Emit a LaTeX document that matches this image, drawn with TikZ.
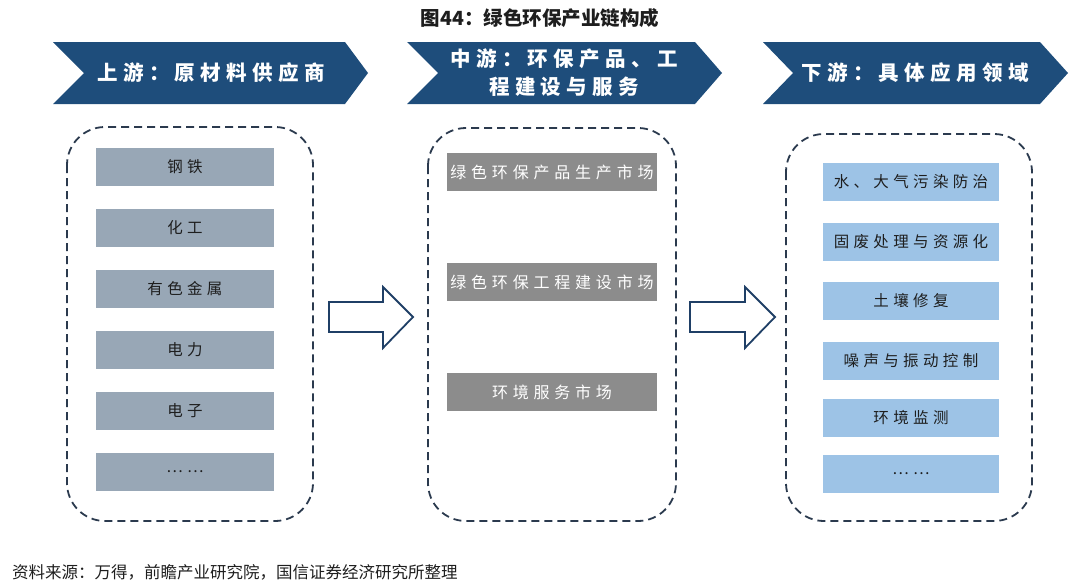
\documentclass[tikz,border=0pt]{standalone}
\usepackage{fontspec}
\setmainfont{Noto Sans CJK SC}
\definecolor{bannerblue}{HTML}{1E4D7B}
\definecolor{dashcol}{HTML}{2B3A4E}
\definecolor{arrowcol}{HTML}{1F3F66}
\definecolor{itemA}{HTML}{98A7B6}
\definecolor{itemB}{HTML}{8C8C8C}
\definecolor{itemC}{HTML}{9DC3E6}
\definecolor{textdark}{HTML}{1E1E1E}
\begin{document}
\begin{tikzpicture}[x=1pt,y=-1pt,
  banner/.style={fill=bannerblue, draw=none},
  btext/.style={text=white, align=center, inner sep=0pt,
    font=\fontsize{20.5}{28}\selectfont\bfseries\addfontfeature{LetterSpace=26}},
  dbox/.style={draw=dashcol, line width=1.8pt, dash pattern=on 8pt off 5pt, rounded corners=38pt},
  itembase/.style={inner sep=0pt, font=\fontsize{15.5}{17}\selectfont\addfontfeature{LetterSpace=28}},
  itema/.style={itembase, fill=itemA, text=textdark, minimum width=178pt, minimum height=38pt},
  itemb/.style={itembase, fill=itemB, text=white, minimum width=210pt, minimum height=38pt,
    font=\fontsize{16}{17}\selectfont\addfontfeature{LetterSpace=30}},
  itemc/.style={itembase, fill=itemC, text=textdark, minimum width=176pt, minimum height=38pt},
  hollow/.style={draw=arrowcol, line width=1.8pt, fill=white, line join=miter}
]
\useasboundingbox (0,0) rectangle (1080,587);

% title
\node[font=\fontsize{19.5}{22}\selectfont\bfseries, text=textdark] (title) at (540,18) {图44：绿色环保产业链构成};

% banners
\fill[banner] (53,42) -- (345,42) -- (368,73) -- (345,104) -- (53,104) -- (84,73) -- cycle;
\fill[banner] (407,42) -- (695,42) -- (722,73) -- (695,104) -- (407,104) -- (438,73) -- cycle;
\fill[banner] (763,42) -- (1040,42) -- (1068,73) -- (1040,104) -- (763,104) -- (793,73) -- cycle;
\node[btext] (b1) at (211,73) {上游：原材料供应商};
\node[btext] (b2) at (564,73) {中游：环保产品、工\\程建设与服务};
\node[btext] (b3) at (915,73) {下游：具体应用领域};

% dashed boxes
\draw[dbox] (67,127) rectangle (313,521);
\draw[dbox] (428,128) rectangle (676,521);
\draw[dbox] (786,134) rectangle (1032,521);

% column 1
\node[itema] (a1) at (185,167) {钢铁};
\node[itema] (a2) at (185,228) {化工};
\node[itema] (a3) at (185,289) {有色金属};
\node[itema] (a4) at (185,350) {电力};
\node[itema] (a5) at (185,411) {电子};
\node[itema] (a6) at (185,472) {……};

% column 2
\node[itemb] (m1) at (552,172) {绿色环保产品生产市场};
\node[itemb] (m2) at (552,282) {绿色环保工程建设市场};
\node[itemb] (m3) at (552,392) {环境服务市场};

% column 3
\node[itemc] (c1) at (911,182) {水、大气污染防治};
\node[itemc] (c2) at (911,242) {固废处理与资源化};
\node[itemc] (c3) at (911,301) {土壤修复};
\node[itemc] (c4) at (911,361) {噪声与振动控制};
\node[itemc] (c5) at (911,418) {环境监测};
\node[itemc] (c6) at (911,474) {……};

% hollow arrows
\draw[hollow] (329,302) -- (383,302) -- (383,287) -- (413,317) -- (383,348) -- (383,332) -- (329,332) -- cycle;
\draw[hollow] (690,302) -- (745,302) -- (745,287) -- (775,317) -- (745,348) -- (745,332) -- (690,332) -- cycle;

% footer
\node[anchor=west, inner sep=0pt, font=\fontsize{16.5}{19}\selectfont, text=textdark] (src) at (12,572) {资料来源：万得，前瞻产业研究院，国信证券经济研究所整理};
\end{tikzpicture}
\end{document}
